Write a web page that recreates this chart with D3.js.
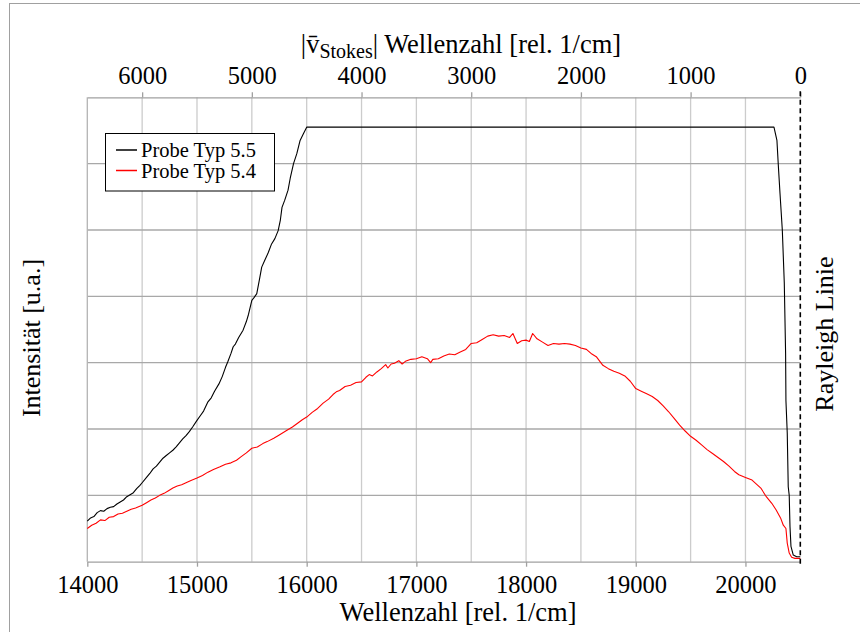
<!DOCTYPE html>
<html><head><meta charset="utf-8">
<script src="https://cdn.jsdelivr.net/npm/d3@7"></script>
<style>
body{margin:0;background:#fff}
text{font-family:"Liberation Serif","Times New Roman",serif;fill:#000}
</style>
</head><body>
<svg id="chart" width="860" height="632"></svg>
<script>
// ---- data ----
const seriesNames = ["Probe Typ 5.5", "Probe Typ 5.4"];
const seriesColors = ["#000000", "#ff0000"];

const wavenumber55 = [14000,14030,14060,14090,14120,14150,14180,14210,14240,14270,14300,14330,14360,14390,14420,14450,14480,14500,14540,14570,14600,14630,14660,14690,14720,14750,14780,14810,14840,14870,14900,14930,14960,15000,15030,15060,15100,15130,15160,15200,15230,15260,15280,15310,15330,15350,15380,15420,15450,15470,15500,15520,15545,15570,15590,15620,15650,15680,15710,15740,15760,15775,15800,15830,15850,15880,15910,15940,15970,16000,20260,20287,20299,20315,20336,20354,20366,20369,20381,20390,20399,20406,20415,20436,20467,20500];
const intensity55  = [0.61,0.66,0.68,0.74,0.77,0.76,0.80,0.82,0.83,0.87,0.90,0.93,0.98,1.01,1.04,1.10,1.15,1.19,1.27,1.33,1.40,1.44,1.50,1.56,1.60,1.64,1.68,1.73,1.79,1.85,1.90,1.96,2.03,2.13,2.20,2.27,2.41,2.47,2.57,2.68,2.79,2.93,3.01,3.14,3.24,3.28,3.38,3.49,3.62,3.73,3.94,3.98,4.04,4.26,4.44,4.55,4.66,4.79,4.87,4.99,5.15,5.34,5.45,5.60,5.78,6.00,6.15,6.35,6.45,6.55,6.55,6.35,5.99,5.55,5.00,4.20,3.14,2.43,1.94,1.13,1.00,0.53,0.23,0.10,0.075,0.075];

const wavenumber54 = [14000,14040,14080,14120,14160,14200,14240,14280,14320,14360,14400,14440,14500,14540,14580,14620,14660,14700,14740,14780,14820,14860,14900,14940,15000,15050,15100,15150,15210,15260,15310,15360,15400,15450,15500,15550,15600,15640,15700,15750,15820,15870,15920,15960,16000,16050,16100,16150,16200,16240,16270,16300,16350,16400,16450,16500,16540,16570,16600,16640,16680,16720,16740,16770,16800,16840,16870,16900,16950,17000,17050,17100,17130,17150,17200,17250,17300,17350,17400,17450,17500,17550,17600,17650,17700,17750,17800,17850,17880,17920,17960,18000,18030,18060,18100,18150,18200,18250,18300,18350,18400,18450,18500,18550,18600,18640,18700,18750,18800,18850,18900,18950,19000,19050,19100,19150,19200,19250,19300,19350,19400,19450,19500,19550,19600,19650,19700,19750,19800,19850,19900,19940,20000,20060,20100,20140,20190,20240,20280,20320,20345,20369,20381,20399,20421,20450,20500];
const intensity54  = [0.50,0.55,0.58,0.63,0.62,0.67,0.68,0.72,0.73,0.76,0.79,0.81,0.85,0.89,0.93,0.96,1.00,1.03,1.07,1.11,1.14,1.16,1.19,1.22,1.26,1.30,1.35,1.39,1.43,1.47,1.49,1.53,1.58,1.64,1.71,1.73,1.78,1.81,1.86,1.91,1.98,2.03,2.09,2.14,2.18,2.25,2.31,2.39,2.45,2.52,2.56,2.58,2.64,2.66,2.70,2.71,2.78,2.82,2.80,2.86,2.91,2.97,2.92,2.98,2.99,3.03,2.98,3.02,3.05,3.06,3.09,3.06,3.00,3.05,3.06,3.10,3.13,3.12,3.16,3.20,3.29,3.30,3.35,3.40,3.42,3.40,3.41,3.38,3.44,3.29,3.33,3.34,3.32,3.44,3.36,3.31,3.26,3.29,3.28,3.29,3.28,3.26,3.22,3.20,3.13,3.09,2.96,2.91,2.87,2.84,2.80,2.72,2.61,2.57,2.53,2.49,2.43,2.35,2.26,2.16,2.06,1.97,1.89,1.83,1.76,1.69,1.63,1.57,1.51,1.44,1.36,1.31,1.27,1.23,1.17,1.11,0.98,0.88,0.78,0.66,0.55,0.50,0.28,0.13,0.066,0.05,0.05];

const bottomTicks = [14000,15000,16000,17000,18000,19000,20000];
const topTicks = [6000,5000,4000,3000,2000,1000,0];
const verticalGrid = [14500,15000,15500,16000,16500,17000,17500,18000,18500,19000,19500,20000];
const horizontalGrid = [1,2,3,4,5,6];
const rayleighPosition = 20500;

// ---- layout ----
const L = 87.3, R = 800.3, T = 97.3, B = 561.7;
const svg = d3.select("#chart");

const x = d3.scaleLinear().domain([14000, 20500]).range([L, R]);
const xTop = d3.scaleLinear().domain([20500 - 14000, 0]).range([L, R]);
const y = d3.scaleLinear().domain([0, 7]).range([B, T]);

// outer frame
svg.append("rect").attr("x", 9.5).attr("y", 3.5).attr("width", 900).attr("height", 700)
  .attr("fill", "none").attr("stroke", "#a0a0a0").attr("stroke-width", 1);

// gridlines
svg.append("g").selectAll("line").data(verticalGrid).join("line")
  .attr("x1", d => x(d)).attr("x2", d => x(d)).attr("y1", T).attr("y2", B)
  .attr("stroke", "#cccccc").attr("stroke-width", 1.3);
svg.append("g").selectAll("line").data(horizontalGrid).join("line")
  .attr("x1", L).attr("x2", R).attr("y1", d => y(d)).attr("y2", d => y(d))
  .attr("stroke", "#a8a8a8").attr("stroke-width", 1.3);

// left axis line
svg.append("line").attr("x1", L).attr("x2", L).attr("y1", T).attr("y2", B)
  .attr("stroke", "#b4b4b4").attr("stroke-width", 1.3);

// bottom axis
const gB = svg.append("g").attr("transform", `translate(0,${B})`)
  .call(d3.axisBottom(x).tickValues(bottomTicks).tickSize(5).tickSizeOuter(0).tickFormat(d3.format("d")));
gB.select(".domain").attr("stroke", "#a0a0a0").attr("stroke-width", 1.3);
gB.selectAll(".tick line").attr("stroke", "#a0a0a0").attr("stroke-width", 1.3);
gB.selectAll(".tick text").attr("font-size", 24.5).attr("font-family", "Liberation Serif").attr("dy", null).attr("y", 31.5).attr("fill", "#000");

// top axis
const gT = svg.append("g").attr("transform", `translate(0,${T})`)
  .call(d3.axisTop(xTop).tickValues(topTicks).tickSize(5).tickSizeOuter(0).tickFormat(d3.format("d")));
gT.select(".domain").attr("stroke", "#a0a0a0").attr("stroke-width", 1.3);
gT.selectAll(".tick line").attr("stroke", "#a0a0a0").attr("stroke-width", 1.3);
gT.selectAll(".tick text").attr("font-size", 24.5).attr("font-family", "Liberation Serif").attr("dy", null).attr("y", -13.5).attr("fill", "#000");

// series
const line = d3.line().x(d => x(d[0])).y(d => y(d[1]));
const s54 = wavenumber54.map((w, i) => [w, intensity54[i]]);
const s55 = wavenumber55.map((w, i) => [w, intensity55[i]]);
svg.append("path").datum(s54).attr("d", line).attr("fill", "none")
  .attr("stroke", seriesColors[1]).attr("stroke-width", 1.1).attr("stroke-linejoin", "round");
svg.append("path").datum(s55).attr("d", line).attr("fill", "none")
  .attr("stroke", seriesColors[0]).attr("stroke-width", 1.1).attr("stroke-linejoin", "round");

// Rayleigh dashed line
svg.append("line").attr("x1", x(rayleighPosition)).attr("x2", x(rayleighPosition))
  .attr("y1", T - 6).attr("y2", B + 4)
  .attr("stroke", "#000").attr("stroke-width", 1.6).attr("stroke-dasharray", "5,3.5");

// titles
svg.append("text").attr("x", 458).attr("y", 621).attr("text-anchor", "middle")
  .attr("font-size", 26.5).text("Wellenzahl [rel. 1/cm]");

const tt = svg.append("text").attr("x", 461).attr("y", 53).attr("text-anchor", "middle").attr("font-size", 26.5);
tt.append("tspan").text("|v\u0304");
tt.append("tspan").attr("font-size", 20).attr("dy", 5).text("Stokes");
tt.append("tspan").attr("dy", -5).text("| Wellenzahl [rel. 1/cm]");

svg.append("text").attr("transform", "translate(40,338) rotate(-90)").attr("text-anchor", "middle")
  .attr("font-size", 26).text("Intensität [u.a.]");
svg.append("text").attr("transform", "translate(833,334) rotate(-90)").attr("text-anchor", "middle")
  .attr("font-size", 26).text("Rayleigh Linie");

// legend
const lg = svg.append("g");
lg.append("rect").attr("x", 105.5).attr("y", 133.5).attr("width", 169).attr("height", 57.5)
  .attr("fill", "#fff").attr("stroke", "#000").attr("stroke-width", 1);
seriesNames.forEach((n, i) => {
  const yy = 150 + i * 20.5;
  lg.append("line").attr("x1", 116).attr("x2", 137).attr("y1", yy).attr("y2", yy)
    .attr("stroke", seriesColors[i]).attr("stroke-width", 1.5);
  lg.append("text").attr("x", 141).attr("y", yy + 7).attr("font-size", 20.5).text(n);
});
</script>
</body></html>
